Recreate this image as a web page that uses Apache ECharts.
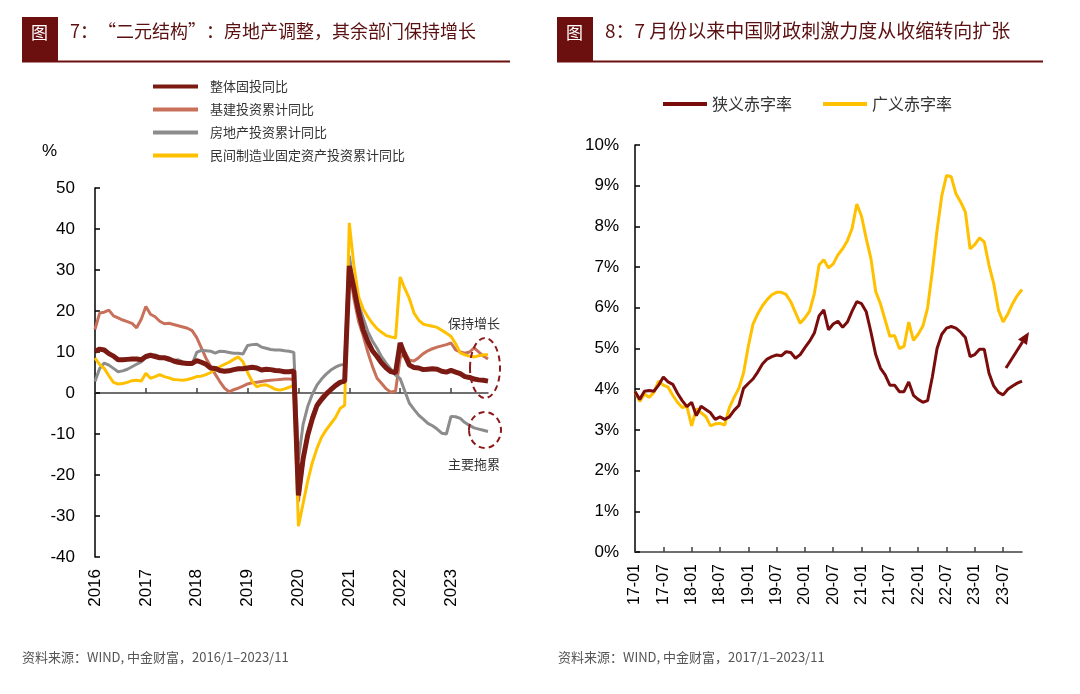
<!DOCTYPE html>
<html>
<head>
<meta charset="utf-8">
<script src="https://cdn.jsdelivr.net/npm/echarts@6/dist/echarts.min.js"></script>
<style>
html,body{margin:0;padding:0;background:#fff;}
#c{width:1080px;height:694px;}
</style>
</head>
<body>
<div id="c"></div>
<script>
// ---------- Left chart data (cumulative YoY, %), Feb..Dec each year ----------
const leftYears = ['2016','2017','2018','2019','2020','2021','2022','2023'];
const leftLastMonth2023 = 10;
const leftCats = [];
leftYears.forEach(function (y) {
  const last = (y === '2023') ? leftLastMonth2023 : 12;
  for (let m = 2; m <= last; m++) leftCats.push(y + '-' + (m < 10 ? '0' + m : m));
});

const totalFAI = [
  10.2, 10.7, 10.5, 9.6, 9.0, 8.1, 8.1, 8.2, 8.3, 8.3, 8.1,
  8.9, 9.2, 8.9, 8.6, 8.6, 8.3, 7.8, 7.5, 7.3, 7.2, 7.2,
  7.9, 7.5, 7.0, 6.1, 6.0, 5.5, 5.3, 5.4, 5.7, 5.9, 5.9,
  6.1, 6.3, 6.1, 5.6, 5.8, 5.7, 5.5, 5.4, 5.2, 5.2, 5.4,
  -25.0, -16.1, -10.3, -6.3, -3.1, -1.6, -0.3, 0.8, 1.8, 2.6, 2.9,
  31.0, 25.6, 19.9, 15.4, 12.6, 10.3, 8.9, 7.3, 6.1, 5.2, 4.9,
  12.2, 9.3, 6.8, 6.2, 6.1, 5.7, 5.8, 5.9, 5.8, 5.3, 5.1,
  5.5, 5.1, 4.7, 4.0, 3.8, 3.4, 3.2, 3.1, 2.9
];
const infraFAI = [
  15.5, 19.5, 19.7, 20.2, 18.8, 18.3, 17.8, 17.4, 17.0, 15.9, 18.0,
  21.1, 19.2, 18.6, 17.5, 16.9, 17.0, 16.7, 16.4, 16.1, 15.8, 15.2,
  13.5, 11.0, 8.5, 6.5, 4.6, 2.8, 1.2, 0.3, 0.8, 1.2, 1.7,
  2.2, 2.5, 2.6, 2.8, 3.0, 3.1, 3.2, 3.3, 3.4, 3.4, 3.3,
  -26.5, -17.0, -10.0, -5.5, -2.6, -1.0, 0.2, 1.0, 1.8, 2.5, 3.0,
  30.5, 23.0, 17.5, 14.0, 10.0, 6.5, 3.6, 2.3, 1.0, 0.2, 0.5,
  8.5, 10.0, 8.0, 7.8, 8.6, 9.6, 10.3, 10.8, 11.2, 11.5, 11.8,
  12.2, 10.5, 10.0, 9.7, 10.0, 11.0, 10.0, 9.0, 8.3
];
const realEstateFAI = [
  2.8, 6.0, 7.3, 6.8, 6.0, 5.2, 5.4, 5.8, 6.4, 7.0, 7.6,
  8.6, 9.1, 9.3, 8.8, 8.5, 7.9, 7.9, 8.1, 7.6, 7.3, 7.0,
  9.9, 10.4, 10.3, 10.2, 9.7, 10.2, 10.1, 9.9, 9.7, 9.7, 9.5,
  11.6, 11.8, 11.9, 11.2, 10.9, 10.6, 10.5, 10.5, 10.3, 10.2, 9.9,
  -16.3, -7.7, -3.3, -0.3, 1.9, 3.4, 4.6, 5.6, 6.3, 6.8, 7.0,
  33.5, 26.0, 21.6, 18.3, 15.0, 12.7, 10.9, 8.8, 7.2, 5.8, 4.4,
  3.5, 0.5, -2.5, -4.0, -5.4, -6.4, -7.4, -8.0, -8.8, -9.8, -10.0,
  -5.7, -5.8, -6.2, -7.2, -7.9, -8.5, -8.8, -9.1, -9.4
];
const privMfgFAI = [
  8.5, 7.0, 6.0, 4.2, 2.6, 2.2, 2.3, 2.6, 3.0, 3.1, 2.9,
  4.8, 3.6, 4.0, 4.5, 4.0, 3.7, 3.3, 3.2, 3.1, 3.3, 3.6,
  4.0, 4.1, 4.5, 5.0, 5.8, 6.4, 7.0, 7.5, 8.2, 8.8, 7.6,
  5.0, 2.8, 1.5, 1.9, 2.0, 1.5, 0.9, 0.7, 1.0, 1.4, 1.9,
  -32.5, -27.0, -21.5, -17.0, -13.5, -10.8, -9.0, -7.5, -6.0, -3.8, -3.0,
  41.5, 31.0, 23.5, 20.5, 18.6, 17.0, 15.7, 14.8, 14.0, 13.7, 13.4,
  28.3, 25.5, 23.0, 19.5, 17.8, 16.8, 16.5, 16.3, 16.0, 15.3, 14.6,
  13.8, 12.0, 9.8, 9.3, 9.0, 8.8, 9.1, 9.3, 9.3
];
const leftNames = ['整体固投同比','基建投资累计同比','房地产投资累计同比','民间制造业固定资产投资累计同比'];

// ---------- Right chart data (deficit ratio, %), monthly 17-01..23-11 ----------
const rightYears = ['17','18','19','20','21','22','23'];
const rightCats = [];
rightYears.forEach(function (y) {
  const last = (y === '23') ? 11 : 12;
  for (let m = 1; m <= last; m++) rightCats.push(y + '-' + (m < 10 ? '0' + m : m));
});
const narrowDeficit = [
  3.94, 3.75, 3.95, 3.97, 3.95, 4.10, 4.30, 4.18, 4.12, 3.90, 3.72, 3.57,
  3.68, 3.35, 3.58, 3.50, 3.42, 3.26, 3.32, 3.26, 3.32, 3.48, 3.60, 4.02,
  4.14, 4.25, 4.42, 4.62, 4.74, 4.80, 4.84, 4.82, 4.92, 4.90, 4.76, 4.85,
  5.02, 5.18, 5.38, 5.80, 5.95, 5.46, 5.60, 5.67, 5.52, 5.65, 5.92, 6.15,
  6.10, 5.90, 5.40, 4.85, 4.52, 4.35, 4.10, 4.10, 3.94, 3.94, 4.18, 3.85,
  3.75, 3.68, 3.72, 4.30, 5.00, 5.35, 5.50, 5.54, 5.50, 5.40, 5.27, 4.80,
  4.85, 4.98, 4.98, 4.40, 4.08, 3.92, 3.86, 4.00, 4.08, 4.15, 4.20
];
const broadDeficit = [
  3.94, 3.70, 3.88, 3.80, 3.92, 4.20, 4.10, 4.05, 3.85, 3.68, 3.55, 3.58,
  3.10, 3.52, 3.42, 3.33, 3.10, 3.15, 3.16, 3.12, 3.55, 3.80, 4.02, 4.40,
  5.05, 5.60, 5.85, 6.05, 6.20, 6.32, 6.38, 6.38, 6.33, 6.15, 5.88, 5.62,
  5.75, 5.92, 6.35, 7.05, 7.18, 6.98, 7.08, 7.30, 7.45, 7.65, 7.95, 8.55,
  8.25, 7.70, 7.20, 6.40, 6.10, 5.70, 5.30, 5.32, 5.00, 5.05, 5.65, 5.20,
  5.35, 5.55, 6.00, 6.90, 7.90, 8.75, 9.25, 9.22, 8.80, 8.60, 8.35, 7.45,
  7.55, 7.72, 7.62, 7.05, 6.60, 5.95, 5.65, 5.85, 6.10, 6.30, 6.45
];
const rightNames = ['狭义赤字率','广义赤字率'];

// ---------- Tick labels ----------
const leftYTicks = { min: -40, max: 50, interval: 10 };
const rightYTicks = { min: 0, max: 10, interval: 1 };

const CJK = '"Noto Sans CJK SC", "Noto Sans", sans-serif';
const NUM = '"Liberation Sans", Arial, sans-serif';
const MAROON = '#6B0F0F';

const leftTickFn = function (idx) { return idx % 11 === 0; };
const rightTickFn = function (idx) { return idx % 6 === 0; };

const chart = echarts.init(document.getElementById('c'), null, { renderer: 'canvas' });

const option = {
  animation: false,
  backgroundColor: '#fff',
  textStyle: { fontFamily: CJK },
  grid: [
    { left: 95, top: 188, width: 393, height: 369 },
    { left: 635, top: 145, width: 387, height: 407 }
  ],
  legend: [
    {
      data: leftNames.map(function (n) { return { name: n, icon: 'rect' }; }),
      orient: 'vertical', left: 153, top: 80, padding: 0,
      itemWidth: 45, itemHeight: 4, itemGap: 10,
      textStyle: { fontSize: 13, color: '#333', fontFamily: CJK, padding: [0, 0, 0, 7] }
    },
    {
      data: rightNames.map(function (n) { return { name: n, icon: 'rect' }; }),
      orient: 'horizontal', left: 663, top: 96, padding: 0,
      itemWidth: 44, itemHeight: 4, itemGap: 31,
      textStyle: { fontSize: 16, color: '#333', fontFamily: CJK }
    }
  ],
  xAxis: [
    {
      gridIndex: 0, type: 'category', data: leftCats, boundaryGap: false,
      axisLine: { onZero: true, lineStyle: { color: '#404040', width: 1.5 } },
      axisTick: { inside: true, length: 5, interval: leftTickFn, lineStyle: { color: '#404040', width: 1.5 } },
      axisLabel: { show: false },
      splitLine: { show: false }
    },
    {
      gridIndex: 0, type: 'category', data: leftCats, boundaryGap: false, position: 'bottom',
      axisLine: { show: false, onZero: false },
      axisTick: { show: false },
      axisLabel: {
        interval: leftTickFn, rotate: 90, margin: 12, fontSize: 17, color: '#000', fontFamily: NUM,
        formatter: function (v) { return v.slice(0, 4); }
      },
      splitLine: { show: false }
    },
    {
      gridIndex: 1, type: 'category', data: rightCats, boundaryGap: false,
      axisLine: { onZero: true, lineStyle: { color: '#404040', width: 1.5 } },
      axisTick: { inside: true, length: 5, interval: rightTickFn, lineStyle: { color: '#404040', width: 1.5 } },
      axisLabel: { interval: rightTickFn, rotate: 90, margin: 12, fontSize: 16, color: '#000', fontFamily: NUM },
      splitLine: { show: false }
    }
  ],
  yAxis: [
    {
      gridIndex: 0, type: 'value', min: leftYTicks.min, max: leftYTicks.max, interval: leftYTicks.interval,
      axisLine: { show: true, lineStyle: { color: '#000', width: 1.5 } },
      axisTick: { show: true, inside: true, length: 5, lineStyle: { color: '#000', width: 1.5 } },
      axisLabel: { fontSize: 17, color: '#000', margin: 20, fontFamily: NUM },
      splitLine: { show: false }
    },
    {
      gridIndex: 1, type: 'value', min: rightYTicks.min, max: rightYTicks.max, interval: rightYTicks.interval,
      axisLine: { show: true, lineStyle: { color: '#000', width: 1.5 } },
      axisTick: { show: true, inside: true, length: 5, lineStyle: { color: '#000', width: 1.5 } },
      axisLabel: { fontSize: 17, color: '#000', margin: 16, fontFamily: NUM, formatter: '{value}%' },
      splitLine: { show: false }
    }
  ],
  series: [
    { name: leftNames[1], type: 'line', xAxisIndex: 0, yAxisIndex: 0, data: infraFAI, symbol: 'none',
      lineStyle: { color: '#C9705B', width: 3 }, itemStyle: { color: '#C9705B' }, z: 3 },
    { name: leftNames[2], type: 'line', xAxisIndex: 0, yAxisIndex: 0, data: realEstateFAI, symbol: 'none',
      lineStyle: { color: '#8C8C8C', width: 3 }, itemStyle: { color: '#8C8C8C' }, z: 3 },
    { name: leftNames[3], type: 'line', xAxisIndex: 0, yAxisIndex: 0, data: privMfgFAI, symbol: 'none',
      lineStyle: { color: '#FFC000', width: 3 }, itemStyle: { color: '#FFC000' }, z: 4 },
    { name: leftNames[0], type: 'line', xAxisIndex: 0, yAxisIndex: 0, data: totalFAI, symbol: 'none',
      lineStyle: { color: '#7A1A12', width: 5 }, itemStyle: { color: '#7A1A12' }, z: 5 },
    { name: rightNames[0], type: 'line', xAxisIndex: 2, yAxisIndex: 1, data: narrowDeficit, symbol: 'none',
      lineStyle: { color: '#7B0C0C', width: 3 }, itemStyle: { color: '#7B0C0C' }, z: 5 },
    { name: rightNames[1], type: 'line', xAxisIndex: 2, yAxisIndex: 1, data: broadDeficit, symbol: 'none',
      lineStyle: { color: '#FFC000', width: 3 }, itemStyle: { color: '#FFC000' }, z: 4 }
  ],
  graphic: [
    // Left header
    { type: 'rect', shape: { x: 22, y: 17, width: 36, height: 45 }, style: { fill: MAROON } },
    { type: 'text', left: 31, top: 24, style: { text: '图', fill: '#fff', font: '17px ' + CJK } },
    { type: 'text', left: 70, top: 22, style: { text: '7：“二元结构”：房地产调整，其余部门保持增长', fill: '#5A1010', font: '18px ' + CJK } },
    { type: 'line', shape: { x1: 22, y1: 61.5, x2: 510, y2: 61.5 }, style: { stroke: MAROON, lineWidth: 2 } },
    // Right header
    { type: 'rect', shape: { x: 557, y: 17, width: 36, height: 45 }, style: { fill: MAROON } },
    { type: 'text', left: 566, top: 24, style: { text: '图', fill: '#fff', font: '17px ' + CJK } },
    { type: 'text', left: 605, top: 21, style: { text: '8：7 月份以来中国财政刺激力度从收缩转向扩张', fill: '#5A1010', font: '19px ' + CJK } },
    { type: 'line', shape: { x1: 557, y1: 61.5, x2: 1043, y2: 61.5 }, style: { stroke: MAROON, lineWidth: 2 } },
    // Left unit
    { type: 'text', left: 42, top: 143, style: { text: '%', fill: '#000', font: '17px ' + NUM } },
    // Left annotations
    { type: 'ellipse', shape: { cx: 485, cy: 368, rx: 15, ry: 30 },
      style: { fill: 'none', stroke: '#8B1A1A', lineWidth: 2, lineDash: [6, 4] }, z: 10 },
    { type: 'ellipse', shape: { cx: 485, cy: 430, rx: 16, ry: 18 },
      style: { fill: 'none', stroke: '#8B1A1A', lineWidth: 2, lineDash: [6, 4] }, z: 10 },
    { type: 'text', left: 448, top: 317, style: { text: '保持增长', fill: '#333', font: '13px ' + CJK }, z: 10 },
    { type: 'text', left: 448, top: 458, style: { text: '主要拖累', fill: '#333', font: '13px ' + CJK }, z: 10 },
    // Right arrow annotation
    { type: 'line', shape: { x1: 1006, y1: 368, x2: 1022.5, y2: 342 }, style: { stroke: '#7B0C0C', lineWidth: 3 }, z: 10 },
    { type: 'polygon', shape: { points: [[1029, 332], [1027, 345], [1018, 339.4]] }, style: { fill: '#7B0C0C' }, z: 10 },
    // Sources
    { type: 'text', left: 22, top: 651, style: { text: '资料来源：WIND, 中金财富，2016/1–2023/11', fill: '#555', font: '13px ' + CJK } },
    { type: 'text', left: 558, top: 651, style: { text: '资料来源：WIND, 中金财富，2017/1–2023/11', fill: '#555', font: '13px ' + CJK } }
  ]
};

chart.setOption(option);
</script>
</body>
</html>
